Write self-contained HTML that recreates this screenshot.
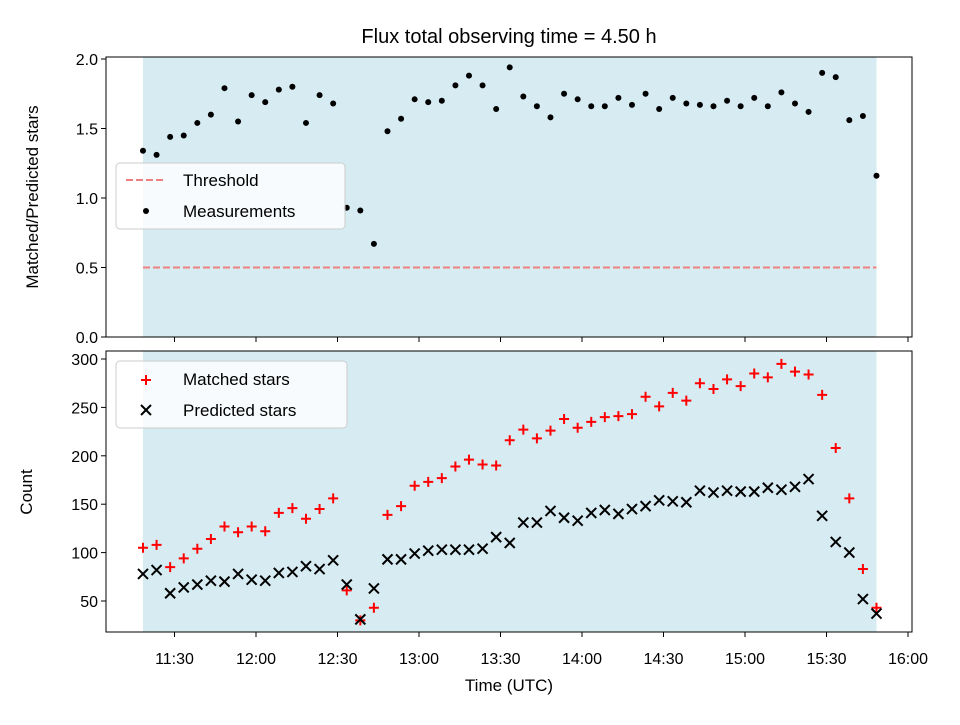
<!DOCTYPE html>
<html><head><meta charset="utf-8"><style>
body{margin:0;background:#fff}
svg{font-family:"Liberation Sans","DejaVu Sans",sans-serif}
</style></head><body>
<svg id="c" width="960" height="720" viewBox="0 0 960 720"></svg>
<script>
const startMin = 18.4; // minutes after 11:00 of first sample
const stepMin = 5;
const ratio = [1.34,1.31,1.44,1.45,1.54,1.60,1.79,1.55,1.74,1.69,1.78,1.80,1.54,1.74,1.68,0.93,0.91,0.67,1.48,1.57,1.71,1.69,1.70,1.81,1.88,1.81,1.64,1.94,1.73,1.66,1.58,1.75,1.71,1.66,1.66,1.72,1.67,1.75,1.64,1.72,1.68,1.67,1.66,1.70,1.66,1.72,1.66,1.76,1.68,1.62,1.90,1.87,1.56,1.59,1.16];
const matched = [105,108,85,94,104,114,127,121,127,122,141,146,135,145,156,61,30,43,139,148,169,173,177,189,196,191,190,216,227,218,226,238,229,235,240,241,243,261,251,265,257,275,269,279,272,285,281,295,287,284,263,208,156,83,43];
const predicted = [78,82,58,64,67,71,70,78,72,71,79,80,86,83,92,67,31,63,93,93,99,102,103,103,103,104,116,110,131,131,143,136,133,141,144,140,145,148,154,153,152,164,162,164,163,163,167,165,168,176,138,111,100,52,37];
const xTickMin = [30,60,90,120,150,180,210,240,270,300];
const xTickLabels = ["11:30","12:00","12:30","13:00","13:30","14:00","14:30","15:00","15:30","16:00"];
const topTicks = [0,0.5,1.0,1.5,2.0];
const botTicks = [50,100,150,200,250,300];
const threshold = 0.5;

const svg = document.getElementById('c');
const NS = 'http://www.w3.org/2000/svg';
function mk(tag, attrs, parent){const e=document.createElementNS(NS,tag);for(const k in attrs)e.setAttribute(k,attrs[k]);(parent||svg).appendChild(e);return e;}
const X0=106,X1=912;
const x = m => 256 + (m-60)*652/240;
const yT = v => 337 - v*139;
const yB = v => 359 + (300-v)*0.968;
const T0=57,T1=337,B0=351,B1=632;
const times = ratio.map((_,i)=>startMin+stepMin*i);
const xs = x(times[0]), xe = x(times[times.length-1]);

let t=mk('text',{x:509,y:43,'text-anchor':'middle','font-size':20});t.textContent='Flux total observing time = 4.50 h';


function panel(y0,y1,name){
  let r=mk('rect',{x:xs,y:y0,width:xe-xs,height:y1-y0,fill:'#add8e6','fill-opacity':0.5});
  
}
panel(T0,T1,'top');panel(B0,B1,'bottom');

let th=mk('line',{x1:xs,x2:xe,y1:yT(threshold),y2:yT(threshold),stroke:'#f08080','stroke-width':2,'stroke-dasharray':'7,3'});


ratio.forEach((v,i)=>{
  const c=mk('circle',{cx:x(times[i]),cy:yT(v),r:3,fill:'#000'});
  
  
});
matched.forEach((v,i)=>{
  const cx=x(times[i]),cy=yB(v);
  const g=mk('path',{d:`M${cx-5},${cy}H${cx+5}M${cx},${cy-5}V${cy+5}`,stroke:'red','stroke-width':2});
  
  
});
predicted.forEach((v,i)=>{
  const cx=x(times[i]),cy=yB(v);
  const g=mk('path',{d:`M${cx-5},${cy-5}L${cx+5},${cy+5}M${cx-5},${cy+5}L${cx+5},${cy-5}`,stroke:'#000','stroke-width':2});
  
  
});

[[T0,T1,'top'],[B0,B1,'bottom']].forEach(([a,b,n])=>{
  const f=mk('rect',{x:X0,y:a,width:X1-X0,height:b-a,fill:'none',stroke:'#000','stroke-width':1});
  
  xTickMin.forEach(m=>mk('line',{x1:x(m),x2:x(m),y1:b,y2:b+5,stroke:'#000'}));
});
xTickMin.forEach((m,i)=>{
  const l=mk('text',{x:x(m),y:664,'text-anchor':'middle','font-size':16});l.textContent=xTickLabels[i];
  
});
topTicks.forEach(v=>{
  mk('line',{x1:X0-5,x2:X0,y1:yT(v),y2:yT(v),stroke:'#000'});
  const l=mk('text',{x:X0-8,y:yT(v)+6,'text-anchor':'end','font-size':16});l.textContent=v.toFixed(1);
  
});
botTicks.forEach(v=>{
  mk('line',{x1:X0-5,x2:X0,y1:yB(v),y2:yB(v),stroke:'#000'});
  const l=mk('text',{x:X0-8,y:yB(v)+6,'text-anchor':'end','font-size':16});l.textContent=v;
  
});
let a=mk('text',{x:509,y:691,'text-anchor':'middle','font-size':17});a.textContent='Time (UTC)';

a=mk('text',{x:38,y:197,'text-anchor':'middle','font-size':17,transform:'rotate(-90 38 197)'});a.textContent='Matched/Predicted stars';

a=mk('text',{x:32,y:492,'text-anchor':'middle','font-size':17,transform:'rotate(-90 32 492)'});a.textContent='Count';


let lg=mk('rect',{x:116,y:163,width:229,height:66,rx:4,fill:'#fff','fill-opacity':0.8,stroke:'#ccc'});

mk('line',{x1:126,x2:166,y1:180,y2:180,stroke:'#f08080','stroke-width':2,'stroke-dasharray':'7,3'});
let lt=mk('text',{x:183,y:186,'font-size':17});lt.textContent='Threshold';

mk('circle',{cx:146,cy:211,r:3,fill:'#000'});
lt=mk('text',{x:183,y:217,'font-size':17});lt.textContent='Measurements';


lg=mk('rect',{x:116,y:361,width:231,height:67,rx:4,fill:'#fff','fill-opacity':0.8,stroke:'#ccc'});

mk('path',{d:'M141,380H151M146,375V385',stroke:'red','stroke-width':2});
lt=mk('text',{x:183,y:385,'font-size':17});lt.textContent='Matched stars';

mk('path',{d:'M141,405L151,415M141,415L151,405',stroke:'#000','stroke-width':2});
lt=mk('text',{x:183,y:416,'font-size':17});lt.textContent='Predicted stars';

</script>
</body></html>
